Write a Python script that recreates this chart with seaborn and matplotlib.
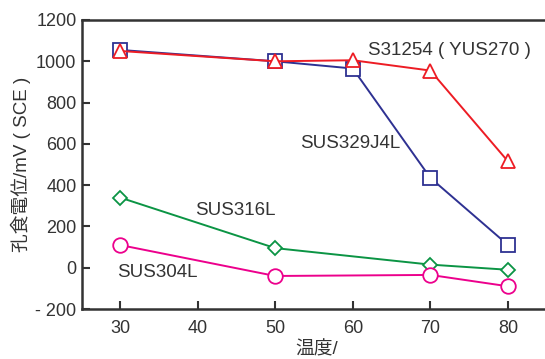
import matplotlib
matplotlib.use("Agg")
import matplotlib.pyplot as plt
import seaborn as sns
import pandas as pd
from matplotlib.ticker import FixedLocator, FixedFormatter

sns.set_theme(style="white")
plt.rcParams['font.family'] = ['Liberation Sans', 'Noto Sans CJK JP', 'DejaVu Sans']

temps_a = [30, 50, 60, 70, 80]
sus329j4l = [1055, 1000, 965, 435, 110]
s31254 = [1050, 1000, 1005, 955, 515]
temps_b = [30, 50, 70, 80]
sus316l = [340, 95, 15, -10]
sus304l = [110, -40, -35, -90]

x_ticks = [30, 40, 50, 60, 70, 80]
y_ticks = [-200, 0, 200, 400, 600, 800, 1000, 1200]
y_ticklabels = ["- 200", "0", "200", "400", "600", "800", "1000", "1200"]

xlabel = "温度/"
ylabel = "孔食電位/mV ( SCE )"

labels = {
    "S31254 ( YUS270 )": (62.0, 1051),
    "SUS329J4L": (53.2, 600),
    "SUS316L": (39.7, 276),
    "SUS304L": (29.6, -22),
}

W, H = 545, 359
fig = plt.figure(figsize=(W / 100, H / 100), dpi=100)
ax = fig.add_axes([82 / W, (H - 309) / H, (W - 82) / W + 0.01, (309 - 20) / H])

text_color = "#333333"
series = [
    (temps_a, sus329j4l, "#2e3192", "s", 10.5),
    (temps_a, s31254, "#ed1c24", "^", 9.5),
    (temps_b, sus316l, "#0b9444", "D", 7),
    (temps_b, sus304l, "#ec008c", "o", 10.5),
]
for xs, ys, c, m, ms in series:
    df = pd.DataFrame({"x": xs, "y": ys})
    sns.lineplot(data=df, x="x", y="y", ax=ax, color=c, marker=m,
                 markersize=ms, markerfacecolor="white", markeredgecolor=c,
                 markeredgewidth=1.3, linewidth=1.4)

# x-range: pixel 82 -> left, x=30 at px 120, x=80 at px 508
ppu = (508 - 120) / 50
x_left = 30 - (120 - 82) / ppu
x_right = 30 + (W - 82 + 0.01 * W - (120 - 82)) / ppu
ax.set_xlim(x_left, x_right)
ax.set_ylim(-200, 1200)

ax.xaxis.set_major_locator(FixedLocator(x_ticks))
ax.yaxis.set_major_locator(FixedLocator(y_ticks))
ax.yaxis.set_major_formatter(FixedFormatter(y_ticklabels))

ax.tick_params(axis="both", direction="in", length=6, width=1.5,
               colors="#333333", labelsize=13, labelcolor=text_color,
               bottom=True, left=True)
ax.tick_params(axis="x", pad=8)
ax.tick_params(axis="y", pad=4)

for s in ["left", "bottom", "top"]:
    ax.spines[s].set_color("#333333")
    ax.spines[s].set_linewidth(1.8)
ax.spines["right"].set_visible(False)

ax.set_xlabel(xlabel, fontsize=13.5, color=text_color, labelpad=3)
ax.set_ylabel(ylabel, fontsize=13.5, color=text_color, labelpad=3)

for t, (x, y) in labels.items():
    ax.text(x, y, t, fontsize=13.5, color=text_color, va="center", ha="left")

fig.savefig("out.png", dpi=100)
